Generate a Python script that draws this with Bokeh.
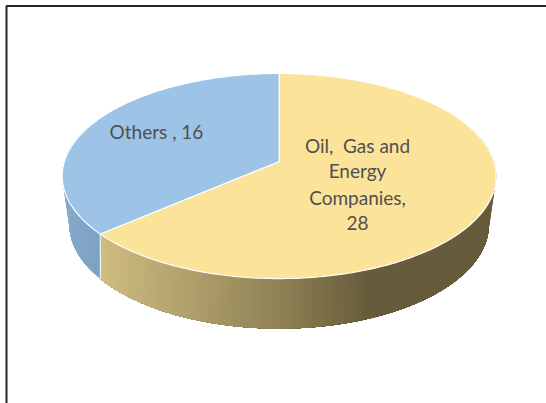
import numpy as np
from bokeh.plotting import figure
from bokeh.models import Range1d
from bokeh.core.properties import value
from bokeh.embed import file_html
from bokeh.resources import INLINE

# Pie values, clockwise from twelve o'clock
categories = ["Oil,  Gas and Energy Companies", "Others"]
values = [28, 16]
top_colors = ["#FBE39A", "#9DC3E6"]

# Label lines for each slice
label_lines = [["Oil,\u00a0 Gas and", "Energy", "Companies,", str(values[0])],
               [f"Others , {values[1]}"]]
label_x = [357, 156]
label_y = [[145, 170, 197, 222], [131]]
FONT = "Lato"
TEXT_COLOR = "#505050"

# Shading of the rim, from its left end to its right end
rim_stops_x = [[100, 180, 279, 370, 495], [60, 102]]
rim_stops_rgb = [
    [(207, 189, 129), (180, 163, 110), (143, 130, 85), (102, 91, 58), (102, 91, 58)],
    [(136, 170, 203), (125, 161, 196)],
]

# Perspective disc: (centre x, apex y, half width, depth scale, tilt)
TOP = (278.7, 161.0, 214.8, 100.5, -0.1415)
BOTTOM = (278.7, 203.3, 205.5, 99.8, -0.2)


def project(theta, disc):
    cx, y0, a, h, k = disc
    u, v = np.sin(theta), np.cos(theta)
    w = 1 - k * v
    return cx + a * u / w, y0 - h * v / w


def rim_color(x, slice_index):
    stops = rim_stops_x[slice_index]
    rgb = rim_stops_rgb[slice_index]
    c = [int(np.interp(x, stops, [s[i] for s in rgb])) for i in range(3)]
    return "#%02x%02x%02x" % tuple(c)


p = figure(width=546, height=403, output_backend="svg", toolbar_location=None,
           x_range=Range1d(0, 546), y_range=Range1d(403, 0),
           min_border=0, outline_line_color=None, background_fill_color="white")
p.axis.visible = False
p.grid.visible = False

# Slice boundaries in radians
fractions = np.cumsum([0] + values) / sum(values)
edges = fractions * 2 * np.pi

# Rim, painted in overlapping shaded bands that reach to the section's far end;
# the later band always covers the earlier one, and the top face hides the upper ends
rim_ranges = [(np.radians(70), edges[1]), (edges[1], np.radians(290))]
for idx, (start, end) in enumerate(rim_ranges):
    ts = np.linspace(start, end, int((end - start) / np.radians(1.5)) + 2)
    xs, ys, cols = [], [], []
    for t0, t1 in zip(ts[:-1], ts[1:]):
        arc = np.linspace(t0, end, 60)
        xt, yt = project(arc, TOP)
        xb, yb = project(arc[::-1], BOTTOM)
        xs.append(np.r_[xt, xb])
        ys.append(np.r_[yt, yb])
        mid, _ = project((t0 + t1) / 2, TOP)
        cols.append(rim_color(mid, idx))
    p.patches(xs, ys, fill_color=cols, line_color=None)

# Light seam where the two rim sections meet
bx0, by0 = project(edges[1], TOP)
bx1, by1 = project(edges[1], BOTTOM)
p.line([bx0, bx1], [by0, by1], line_color="#EEF1EE", line_width=1.2)

# Top face of the pie
apex = project(0.0, (TOP[0], TOP[1], 0, 0, TOP[4]))
for i in range(len(values)):
    ts = np.linspace(edges[i], edges[i + 1], 240)
    x, y = project(ts, TOP)
    p.patch(np.r_[apex[0], x], np.r_[apex[1], y], fill_color=top_colors[i],
            line_color="#FFFFFF", line_width=1.2)

# Slice labels
for lines, x, ys in zip(label_lines, label_x, label_y):
    p.text([x] * len(lines), ys, text=lines, text_font=value(FONT), text_font_size="19px",
           text_color=TEXT_COLOR, text_align="center", text_baseline="middle")

# Frame around the chart area, running off the page at right and bottom
p.line([6, 6, 546], [403, 5.5, 5.5], line_color="#262626", line_width=2)

open("out.html", "w").write(file_html(p, INLINE))
